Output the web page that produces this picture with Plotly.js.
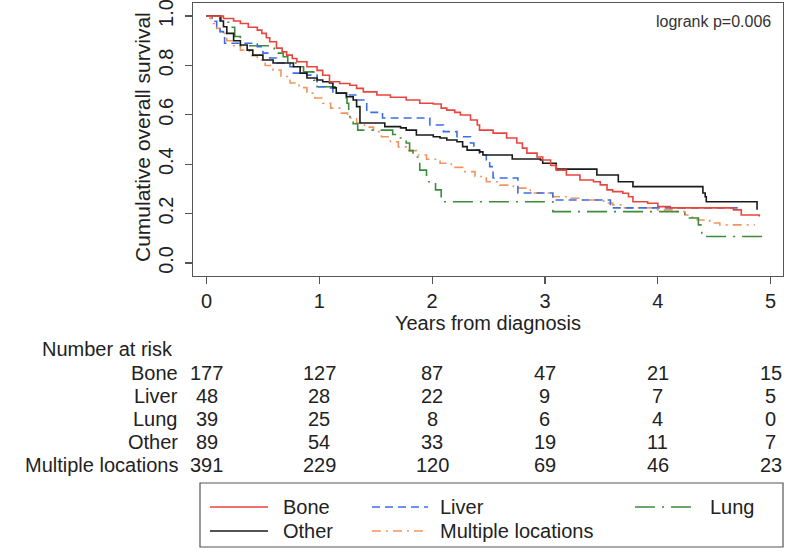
<!DOCTYPE html>
<html>
<head>
<meta charset="utf-8">
<script src="https://cdn.plot.ly/plotly-3.0.1.min.js"></script>
<style>html,body{margin:0;padding:0;background:#fff;}#chart{width:787px;height:556px;}</style>
</head>
<body>
<div id="chart"></div>
<script>
// ---- Data ----
var groups = ["Bone", "Liver", "Lung", "Other", "Multiple locations"];

var boneT = [0, 0.15, 0.24, 0.30, 0.37, 0.45, 0.49, 0.53, 0.56, 0.62, 0.67, 0.71, 0.76, 0.80, 0.89, 0.98, 1.03, 1.09, 1.18, 1.27, 1.33, 1.39, 1.51, 1.63, 1.77, 1.89, 2.01, 2.08, 2.13, 2.20, 2.25, 2.34, 2.40, 2.42, 2.54, 2.66, 2.75, 2.80, 2.84, 2.93, 2.98, 3.05, 3.10, 3.19, 3.31, 3.43, 3.49, 3.55, 3.60, 3.69, 3.74, 3.78, 3.91, 4.00, 4.11, 4.67, 4.74, 4.90];
var boneS = [1.0, 0.99, 0.98, 0.97, 0.955, 0.943, 0.93, 0.912, 0.896, 0.87, 0.855, 0.842, 0.828, 0.815, 0.795, 0.78, 0.76, 0.734, 0.727, 0.72, 0.707, 0.693, 0.68, 0.671, 0.66, 0.647, 0.644, 0.627, 0.619, 0.61, 0.599, 0.579, 0.559, 0.538, 0.526, 0.506, 0.486, 0.465, 0.445, 0.429, 0.417, 0.395, 0.376, 0.356, 0.336, 0.329, 0.316, 0.296, 0.289, 0.282, 0.268, 0.248, 0.242, 0.228, 0.223, 0.215, 0.194, 0.188];

var liverT = [0, 0.05, 0.09, 0.12, 0.15, 0.16, 0.45, 0.50, 0.56, 0.62, 0.74, 0.77, 0.89, 0.98, 1.09, 1.12, 1.24, 1.33, 1.42, 1.56, 1.98, 2.10, 2.22, 2.34, 2.37, 2.42, 2.48, 2.51, 2.54, 2.76, 3.07, 3.58, 4.75];
var liverS = [1.0, 0.979, 0.957, 0.937, 0.917, 0.89, 0.876, 0.85, 0.83, 0.81, 0.795, 0.769, 0.761, 0.714, 0.709, 0.688, 0.68, 0.66, 0.61, 0.587, 0.559, 0.532, 0.511, 0.486, 0.457, 0.437, 0.417, 0.39, 0.344, 0.283, 0.255, 0.223, 0.223];

var lungT = [0, 0.13, 0.21, 0.25, 0.30, 0.60, 0.68, 0.72, 0.80, 0.86, 0.95, 0.98, 1.15, 1.24, 1.245, 1.26, 1.27, 1.30, 1.34, 1.65, 1.69, 1.77, 1.80, 1.83, 1.89, 1.95, 2.03, 2.08, 3.07, 4.24, 4.36, 4.39, 4.98];
var lungS = [1.0, 0.975, 0.955, 0.917, 0.88, 0.85, 0.835, 0.81, 0.795, 0.774, 0.74, 0.714, 0.688, 0.667, 0.647, 0.607, 0.592, 0.564, 0.538, 0.52, 0.506, 0.486, 0.455, 0.429, 0.376, 0.329, 0.296, 0.248, 0.208, 0.182, 0.154, 0.107, 0.107];

var otherT = [0, 0.12, 0.15, 0.18, 0.24, 0.30, 0.36, 0.41, 0.50, 0.59, 0.77, 0.83, 0.89, 0.98, 1.03, 1.09, 1.12, 1.15, 1.24, 1.30, 1.33, 1.36, 1.58, 1.72, 1.77, 1.86, 2.01, 2.07, 2.13, 2.22, 2.27, 2.31, 2.42, 2.45, 2.71, 2.96, 2.98, 3.10, 3.46, 3.65, 3.78, 4.40, 4.42, 4.43, 4.88];
var otherS = [1.0, 0.98, 0.957, 0.93, 0.90, 0.883, 0.862, 0.842, 0.822, 0.81, 0.795, 0.769, 0.749, 0.741, 0.734, 0.729, 0.709, 0.688, 0.673, 0.66, 0.633, 0.567, 0.552, 0.547, 0.538, 0.518, 0.511, 0.506, 0.498, 0.491, 0.471, 0.457, 0.45, 0.437, 0.421, 0.417, 0.404, 0.38, 0.356, 0.329, 0.309, 0.283, 0.268, 0.248, 0.215];

var multT = [0, 0.03, 0.06, 0.09, 0.12, 0.18, 0.24, 0.30, 0.38, 0.45, 0.52, 0.59, 0.66, 0.74, 0.82, 0.89, 0.96, 1.03, 1.10, 1.18, 1.25, 1.33, 1.40, 1.48, 1.55, 1.63, 1.70, 1.77, 1.86, 1.95, 2.07, 2.17, 2.27, 2.38, 2.48, 2.60, 2.72, 2.87, 3.07, 3.20, 3.31, 3.52, 3.60, 3.69, 3.99, 4.14, 4.24, 4.30, 4.35, 4.46, 4.55, 4.86];
var multS = [1.0, 0.99, 0.97, 0.95, 0.93, 0.90, 0.88, 0.862, 0.84, 0.822, 0.80, 0.781, 0.755, 0.729, 0.71, 0.688, 0.668, 0.647, 0.627, 0.607, 0.587, 0.567, 0.55, 0.532, 0.511, 0.491, 0.47, 0.455, 0.437, 0.42, 0.404, 0.387, 0.37, 0.35, 0.329, 0.315, 0.303, 0.283, 0.268, 0.262, 0.255, 0.243, 0.235, 0.223, 0.215, 0.208, 0.194, 0.185, 0.174, 0.162, 0.154, 0.154];

var riskTimes = [0, 1, 2, 3, 4, 5];
var riskBone  = [177, 127, 87, 47, 21, 15];
var riskLiver = [48, 28, 22, 9, 7, 5];
var riskLung  = [39, 25, 8, 6, 4, 0];
var riskOther = [89, 54, 33, 19, 11, 7];
var riskMult  = [391, 229, 120, 69, 46, 23];

var xTicks = [0, 1, 2, 3, 4, 5];
var yTicks = [0, 0.2, 0.4, 0.6, 0.8, 1.0];
var yTickText = ["0.0", "0.2", "0.4", "0.6", "0.8", "1.0"];

// ---- Styles ----
var FONT = "Liberation Sans, Arial, Helvetica, sans-serif";
var styles = {
  "Bone": {color: "#e8453c", dash: "solid"},
  "Liver": {color: "#3a6fe8", dash: "8px,5px"},
  "Lung": {color: "#3d8c3d", dash: "20px,7px,2px,7px"},
  "Other": {color: "#1a1a1a", dash: "solid"},
  "Multiple locations": {color: "#f4945c", dash: "9px,5px,2px,5px"}
};
var series = {
  "Bone": [boneT, boneS], "Liver": [liverT, liverS], "Lung": [lungT, lungS],
  "Other": [otherT, otherS], "Multiple locations": [multT, multS]
};
var risk = {
  "Bone": riskBone, "Liver": riskLiver, "Lung": riskLung,
  "Other": riskOther, "Multiple locations": riskMult
};

var drawOrder = ["Multiple locations", "Lung", "Liver", "Other", "Bone"];
var traces = drawOrder.map(function (g) {
  return {
    x: series[g][0], y: series[g][1], type: "scatter", mode: "lines",
    line: {shape: "hv", color: styles[g].color, dash: styles[g].dash, width: 1.6},
    name: g, showlegend: false, hoverinfo: "skip"
  };
});

// plot area geometry in px: left 193, right 783, top 3, bottom 276
var W = 787, H = 556, L = 193, R = 783, T = 3, B = 276;
function px2x(p) { return (p - L) / (R - L); }
function py2y(p) { return (B - p) / (B - T); }

var annotations = [];
var shapes = [];

annotations.push({xref: "paper", yref: "paper", x: px2x(773), y: py2y(22), text: "logrank p=0.006",
  showarrow: false, xanchor: "right", yanchor: "middle", font: {family: FONT, size: 16, color: "#333"}});

// y-axis title (rotated)
annotations.push({xref: "paper", yref: "paper", x: px2x(142), y: py2y(137), text: "Cumulative overall survival",
  textangle: -90, showarrow: false, xanchor: "center", yanchor: "middle", font: {family: FONT, size: 21, color: "#222"}});

// Number at risk table
annotations.push({xref: "paper", yref: "paper", x: px2x(40), y: py2y(349), text: "Number at risk",
  showarrow: false, xanchor: "left", yanchor: "middle", font: {family: FONT, size: 20, color: "#222"}});
var rowPy = [373, 396, 419, 442, 465];
groups.forEach(function (g, i) {
  annotations.push({xref: "paper", yref: "paper", x: px2x(180), y: py2y(rowPy[i]), text: g,
    showarrow: false, xanchor: "right", yanchor: "middle", font: {family: FONT, size: 20, color: "#222"}});
  riskTimes.forEach(function (t, j) {
    annotations.push({xref: "x", yref: "paper", x: t, y: py2y(rowPy[i]), text: String(risk[g][j]),
      showarrow: false, xanchor: "center", yanchor: "middle", font: {family: FONT, size: 20, color: "#222"}});
  });
});

// Legend box
shapes.push({type: "rect", xref: "paper", yref: "paper", x0: px2x(200), x1: px2x(783), y0: py2y(547), y1: py2y(483),
  line: {color: "#555", width: 1.2}, fillcolor: "rgba(0,0,0,0)"});
var legendPos = {
  "Bone": [210, 268, 281, 507], "Liver": [372, 428, 438, 507], "Lung": [635, 692, 708, 507],
  "Other": [210, 268, 281, 531], "Multiple locations": [372, 428, 438, 531]
};
groups.forEach(function (g) {
  var p = legendPos[g];
  shapes.push({type: "line", xref: "paper", yref: "paper", x0: px2x(p[0]), x1: px2x(p[1]), y0: py2y(p[3]), y1: py2y(p[3]),
    line: {color: styles[g].color, dash: styles[g].dash, width: 1.6}});
  annotations.push({xref: "paper", yref: "paper", x: px2x(p[2]), y: py2y(p[3]), text: g,
    showarrow: false, xanchor: "left", yanchor: "middle", font: {family: FONT, size: 20, color: "#222"}});
});

var layout = {
  width: W, height: H,
  margin: {l: L, r: W - R, t: T, b: H - B, pad: 0},
  paper_bgcolor: "#fff", plot_bgcolor: "#fff",
  showlegend: false,
  font: {family: FONT, size: 20, color: "#222"},
  xaxis: {
    range: [-0.12, 5.11], tickvals: xTicks, ticktext: xTicks.map(String),
    ticks: "outside", ticklen: 7, tickwidth: 1.2, tickcolor: "#555",
    showline: true, mirror: true, linecolor: "#555", linewidth: 1.4,
    showgrid: false, zeroline: false,
    tickfont: {family: FONT, size: 20, color: "#222"},
    title: {text: "Years from diagnosis", font: {family: FONT, size: 20, color: "#222"}, standoff: 2}
  },
  yaxis: {
    range: [-0.053, 1.053], tickvals: yTicks, ticktext: yTickText, tickangle: -90,
    ticks: "outside", ticklen: 7, tickwidth: 1.2, tickcolor: "#555",
    showline: true, mirror: true, linecolor: "#555", linewidth: 1.4,
    showgrid: false, zeroline: false, ticklabeloverflow: "allow", ticklabelstandoff: 4,
    tickfont: {family: FONT, size: 20, color: "#222"}
  },
  annotations: annotations,
  shapes: shapes
};

Plotly.newPlot("chart", traces, layout, {displayModeBar: false, staticPlot: true});
</script>
</body>
</html>
